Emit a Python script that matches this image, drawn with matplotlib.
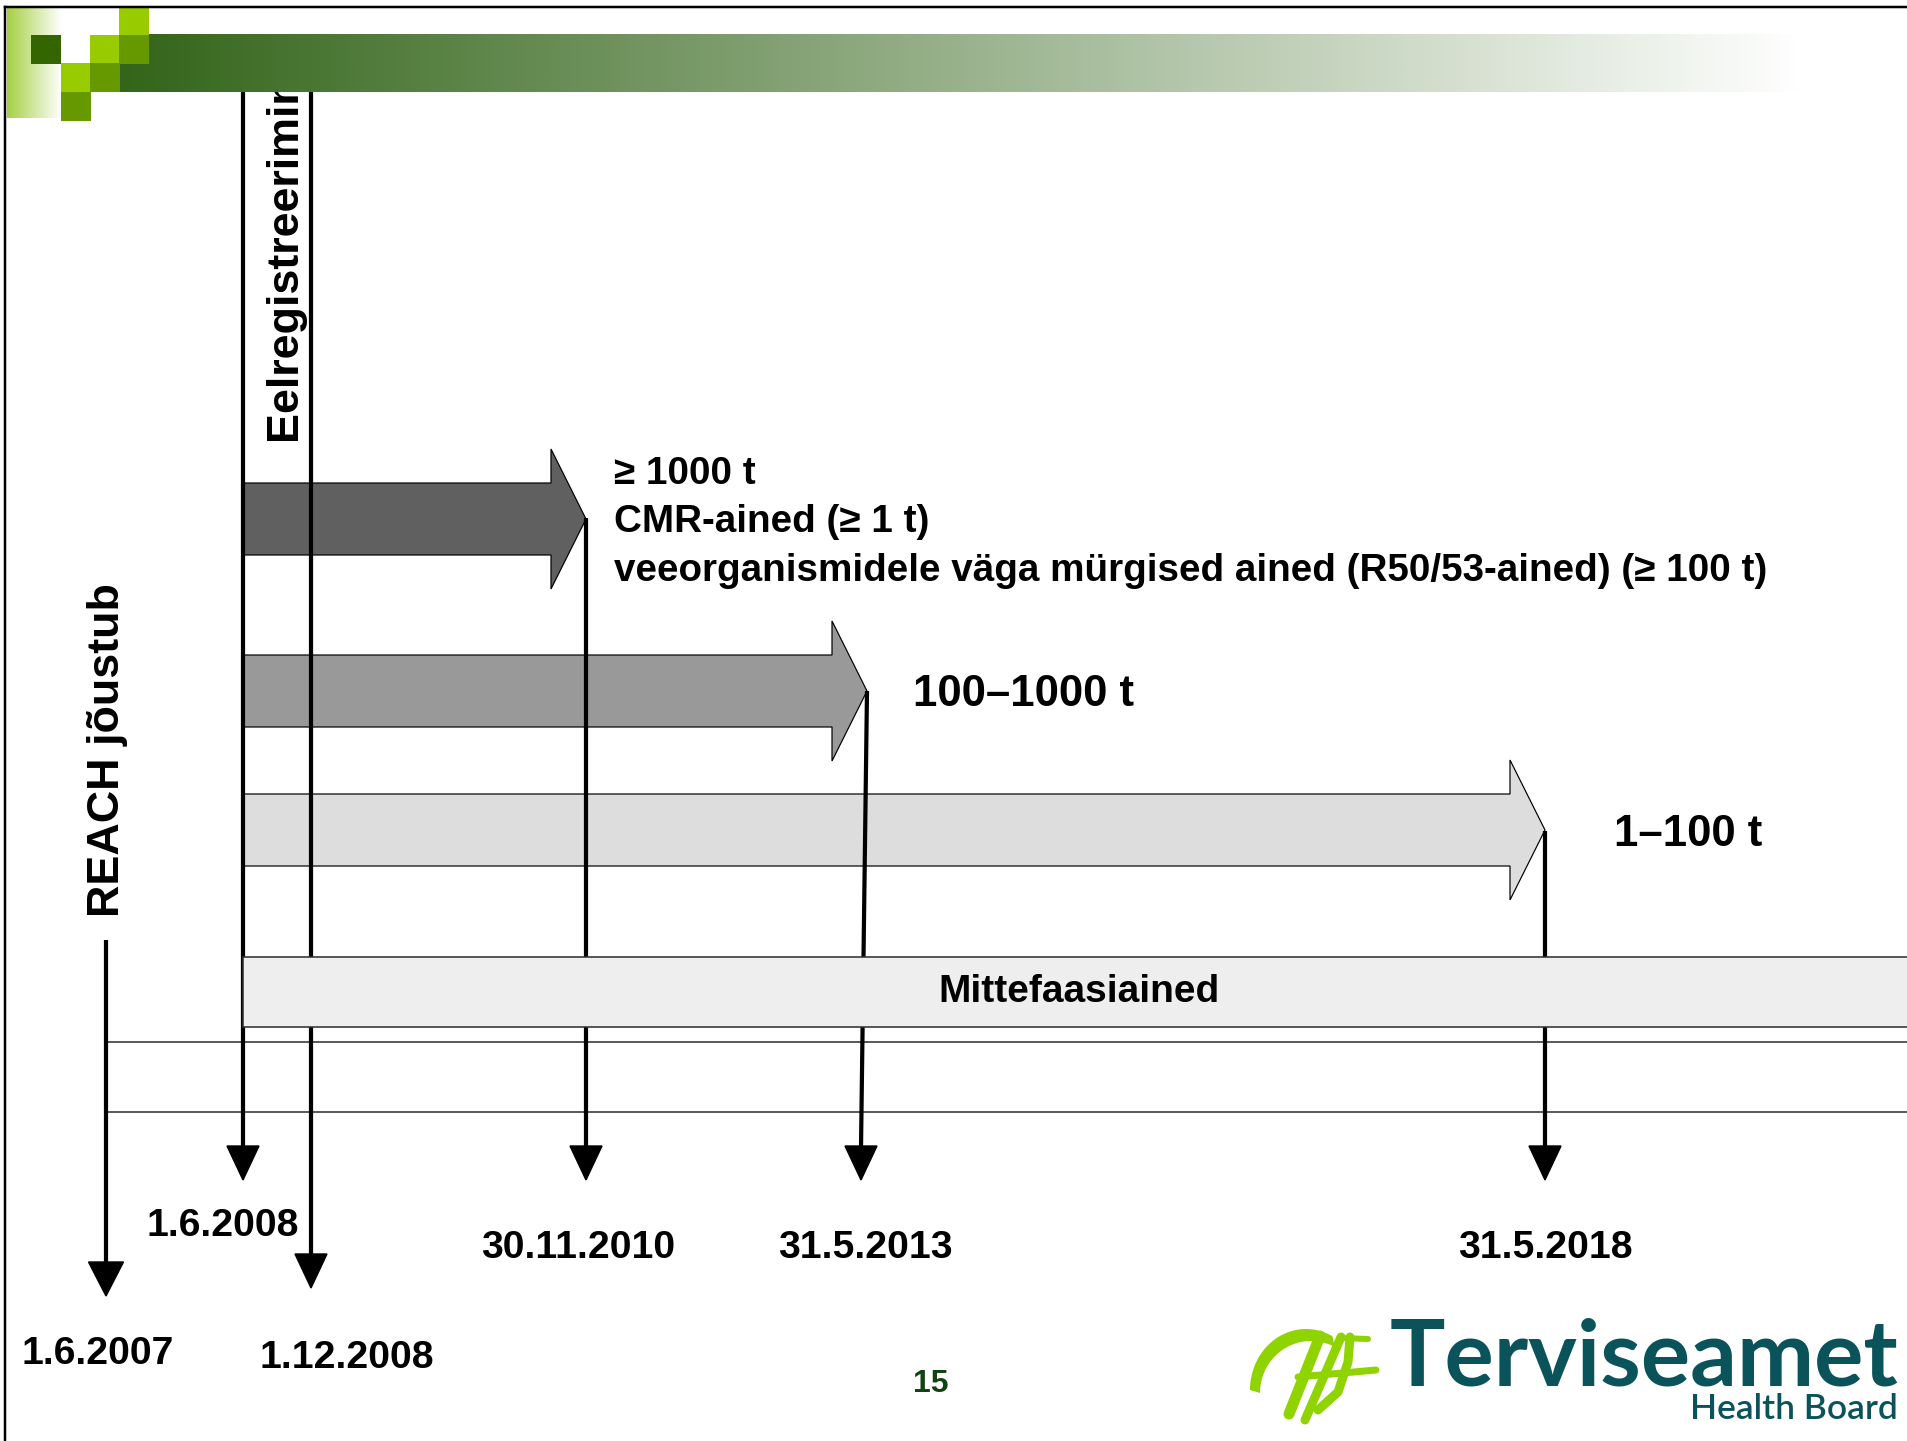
"""
REACH registration timeline slide (Terviseamet), redrawn with matplotlib.
Canvas is laid out in slide pixels (1907 x 1441), y grows downwards.
"""
import numpy as np
import matplotlib.pyplot as plt
from matplotlib.patches import Polygon, Rectangle
from matplotlib.colors import LinearSegmentedColormap

W, H = 1907, 1441
FONT = "Liberation Sans"
LIME = "#8fd400"
TEAL = "#0b535a"

# -------------------- data --------------------
# milestones on the timeline: label and x position on the slide
DATES = ["1.6.2007", "1.6.2008", "1.12.2008", "30.11.2010", "31.5.2013", "31.5.2018"]
DATE_X = [106, 243, 311, 586, 864, 1545]

# tonnage phases: arrows start at the 1.6.2008 line and end at a deadline
PHASE_LINES = [
    ["≥ 1000 t", "CMR-ained (≥ 1 t)",
     "veeorganismidele väga mürgised ained (R50/53-ained) (≥ 100 t)"],
    ["100–1000 t"],
    ["1–100 t"],
]
PHASE_DEADLINE = ["30.11.2010", "31.5.2013", "31.5.2018"]
PHASE_COLORS = ["#606060", "#999999", "#dddddd"]

NON_PHASE = "Mittefaasiained"
REACH_LABEL = "REACH jõustub"
PREREG_LABEL = "Eelregistreerimine"
PAGE_NO = "15"


def px(v):
    """pixel length -> points at dpi 100"""
    return v * 0.72


def down_arrow(ax, x0, y0, x1, y1, head_w=32, head_h=34):
    ax.plot([x0, x1], [y0, y1 - head_h + 2], color="black", lw=px(4.2),
            solid_capstyle="butt", zorder=4)
    ax.add_patch(Polygon([(x1 - head_w / 2, y1 - head_h), (x1 + head_w / 2, y1 - head_h),
                          (x1, y1)], closed=True, color="black", zorder=4))


def block_arrow(ax, x0, x1, yc, color, shaft=36, head=70, head_len=35):
    xb = x1 - head_len
    pts = [(x0, yc - shaft), (xb, yc - shaft), (xb, yc - head), (x1, yc),
           (xb, yc + head), (xb, yc + shaft), (x0, yc + shaft)]
    ax.add_patch(Polygon(pts, closed=True, facecolor=color, edgecolor="black",
                         lw=px(1.2), joinstyle="miter", zorder=2))


def header(ax):
    # dark green band fading to white
    cmap = LinearSegmentedColormap.from_list("band", ["#33651a", "#ffffff"])
    grad = np.clip(np.linspace(0, 1.06, 600), 0, 1)[None, :]
    ax.imshow(grad, cmap=cmap, extent=(119, W, 92, 34), aspect="auto",
              interpolation="bilinear", zorder=6)
    # light green strip on the left
    cmap2 = LinearSegmentedColormap.from_list("strip", ["#a6d044", "#ffffff"])
    ax.imshow(np.linspace(0, 1, 100)[None, :], cmap=cmap2, extent=(7, 62, 118, 7),
              aspect="auto", interpolation="bilinear", zorder=6)
    squares = [
        (31, 35, "#336600"), (119, 7, "#99cc00"), (90, 35, "#99cc00"),
        (119, 35, "#669900"), (61, 63, "#99cc00"), (90, 63, "#669900"),
        (61, 92, "#669900"),
    ]
    for x, y, c in squares:
        ax.add_patch(Rectangle((x, y), 29.5, 28.5, color=c, lw=0, zorder=7))
    # slide frame
    ax.plot([5, W], [7, 7], color="black", lw=px(2.5), zorder=8)
    ax.plot([5, 5], [7, H], color="black", lw=px(2.5), zorder=8)


def logo(ax):
    ax.text(1898, 1386, "Terviseamet", family="Lato", weight="bold", fontsize=66.5,
            color=TEAL, ha="right", va="baseline", zorder=5)
    ax.text(1898, 1419, "Health Board", family="Lato", weight="semibold", fontsize=25.5,
            color=TEAL, ha="right", va="baseline", zorder=5)
    # "TA" emblem: crescent + italic strokes
    t = np.radians(np.linspace(180, 62, 60))
    outer = np.c_[1306 + 56 * np.cos(t), 1390 - 61 * np.sin(t)]
    inner = np.c_[1311 + 51 * np.cos(t[::-1]), 1393 - 52 * np.sin(t[::-1])]
    ax.add_patch(Polygon(np.r_[outer, inner], closed=True, color=LIME, lw=0, zorder=5))
    strokes = [
        ([1320, 1289], [1336, 1414], 11),  # T stem
        ([1305, 1341], [1420, 1337], 9),   # A left leg
        ([1350, 1348, 1338, 1318], [1337, 1362, 1392, 1410], 9),  # A right leg
        ([1298, 1376], [1377, 1370], 7),   # crossbar
        ([1340, 1368], [1338, 1339], 6),   # top flourish
    ]
    for xs, ys, w in strokes:
        ax.plot(xs, ys, color=LIME, lw=px(w), solid_capstyle="round",
                solid_joinstyle="round", zorder=5)


def main():
    fig = plt.figure(figsize=(W / 100, H / 100), dpi=100)
    ax = fig.add_axes([0, 0, 1, 1])
    ax.set_xlim(0, W)
    ax.set_ylim(H, 0)
    ax.axis("off")

    xpos = dict(zip(DATES, DATE_X))

    # horizontal guide lines of the timeline
    for y in (1042, 1112):
        ax.plot([106, W], [y, y], color="#333333", lw=px(1.6), zorder=1)

    # phase arrows
    phase_y = [519, 691, 830]
    for lines, dl, col, yc in zip(PHASE_LINES, PHASE_DEADLINE, PHASE_COLORS, phase_y):
        tip = xpos[dl] + (3 if dl == "31.5.2013" else 0)
        block_arrow(ax, xpos["1.6.2008"], tip, yc, col)
        if len(lines) > 1:
            for i, t in enumerate(lines):
                ax.text(614, 474 + 48.5 * i, t, family=FONT, weight="bold", fontsize=27.8,
                        ha="left", va="center", zorder=5)
        else:
            dy = 5 if dl == "31.5.2018" else 3
            ax.text(tip + 46 + (23 if dl == "31.5.2018" else 0), yc + dy, lines[0],
                    family=FONT, weight="bold", fontsize=31.5, ha="left", va="center",
                    zorder=5)

    # non-phase-in substances box (covers the deadline lines)
    ax.add_patch(Rectangle((xpos["1.6.2008"], 957), W, 70, facecolor="#eeeeee",
                           edgecolor="#333333", lw=px(1.6), zorder=5))
    ax.text(1079, 992, NON_PHASE, family=FONT, weight="bold",
            fontsize=28, ha="center", va="center", zorder=6)

    # milestone arrows
    starts = {"1.6.2007": 940, "1.6.2008": 92, "1.12.2008": 92,
              "30.11.2010": 518, "31.5.2013": 691, "31.5.2018": 831}
    tips = {"1.6.2007": 1296, "1.6.2008": 1180, "1.12.2008": 1288,
            "30.11.2010": 1180, "31.5.2013": 1180, "31.5.2018": 1180}
    for d in DATES:
        x = xpos[d]
        x0 = x + 3 if d == "31.5.2013" else x
        x1 = x - 3 if d == "31.5.2013" else x
        hw = 35 if d == "1.6.2007" else 32
        down_arrow(ax, x0, starts[d], x1, tips[d], head_w=hw)

    # milestone labels
    label_pos = {"1.6.2007": (98, 1354), "1.6.2008": (223, 1226),
                 "1.12.2008": (347, 1358), "30.11.2010": (578, 1248),
                 "31.5.2013": (865, 1248), "31.5.2018": (1545, 1248)}
    for d in DATES:
        x, y = label_pos[d]
        ax.text(x, y, d, family=FONT, weight="bold", fontsize=28.2, ha="center",
                va="center", zorder=5)

    ax.text(108, 750, REACH_LABEL, family=FONT, weight="bold", fontsize=32.3,
            rotation=90, ha="center", va="center", zorder=5)
    ax.text(285, 440, PREREG_LABEL, family=FONT, weight="bold", fontsize=32.3,
            rotation=90, ha="left", va="center", rotation_mode="anchor", zorder=3)

    ax.text(931, 1384, PAGE_NO, family=FONT, weight="bold", fontsize=23,
            color="#114411", ha="center", va="center", zorder=5)

    header(ax)
    logo(ax)

    fig.savefig("out.png", dpi=100)
    plt.close(fig)


if __name__ == "__main__":
    main()
